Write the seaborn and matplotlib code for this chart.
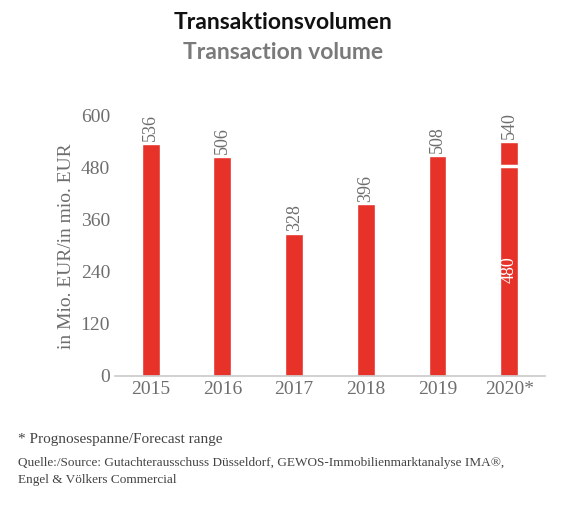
import matplotlib
matplotlib.use("Agg")
import matplotlib.pyplot as plt
import seaborn as sns
import pandas as pd

years = ["2015", "2016", "2017", "2018", "2019", "2020*"]
values = [536, 506, 328, 396, 508, 540]
forecast_low = 480
yticks = [0, 120, 240, 360, 480, 600]

sns.set_theme(style="white")
plt.rcParams['font.family'] = ['Liberation Serif', 'DejaVu Serif']
red = "#e63228"
gray = "#6e6e6e"

fig = plt.figure(figsize=(5.66, 5.08), dpi=100)
ax = fig.add_axes([0.203, 0.26, 0.76, 0.512])
df = pd.DataFrame({"year": years, "value": values})
sns.barplot(data=df, x="year", y="value", color=red, width=0.25, saturation=1, ax=ax)
ax.set_xlim(-0.5, 5.5)
ax.set_ylim(0, 600)
ax.set_yticks(yticks)
ax.tick_params(axis="both", colors=gray, labelsize=14, length=0)
for lab in ax.get_xticklabels() + ax.get_yticklabels():
    lab.set_color(gray)
ax.set_xlabel("")
ax.set_ylabel("in Mio. EUR/in mio. EUR", color=gray, fontsize=14)
for s in ["top", "right", "left"]:
    ax.spines[s].set_visible(False)
ax.spines["bottom"].set_color("#cccccc")
for i, v in enumerate(values):
    ax.text(i, v + 6, str(v), rotation=90, ha="center", va="bottom", color=gray, fontsize=13)
# forecast split
ax.hlines(forecast_low + 5, 5 - 0.14, 5 + 0.14, color="white", lw=2.5)
ax.text(5, 245, str(forecast_low), rotation=90, ha="center", va="center", color="white", fontsize=13)

fig.text(0.5, 0.955, "Transaktionsvolumen", ha="center", va="center", fontsize=16.5,
         fontweight="bold", family=["Lato", "DejaVu Sans"], color="#111111")
fig.text(0.5, 0.897, "Transaction volume", ha="center", va="center", fontsize=16.5,
         fontweight="bold", family=["Lato", "DejaVu Sans"], color="#7a7a7a")
fig.text(0.032, 0.128, "* Prognosespanne/Forecast range", fontsize=11, color="#444444")
fig.text(0.032, 0.083, "Quelle:/Source: Gutachterausschuss Düsseldorf, GEWOS-Immobilienmarktanalyse IMA®,",
         fontsize=9.5, color="#444444")
fig.text(0.032, 0.049, "Engel & Völkers Commercial", fontsize=9.5, color="#444444")
fig.savefig("out.png", dpi=100)
